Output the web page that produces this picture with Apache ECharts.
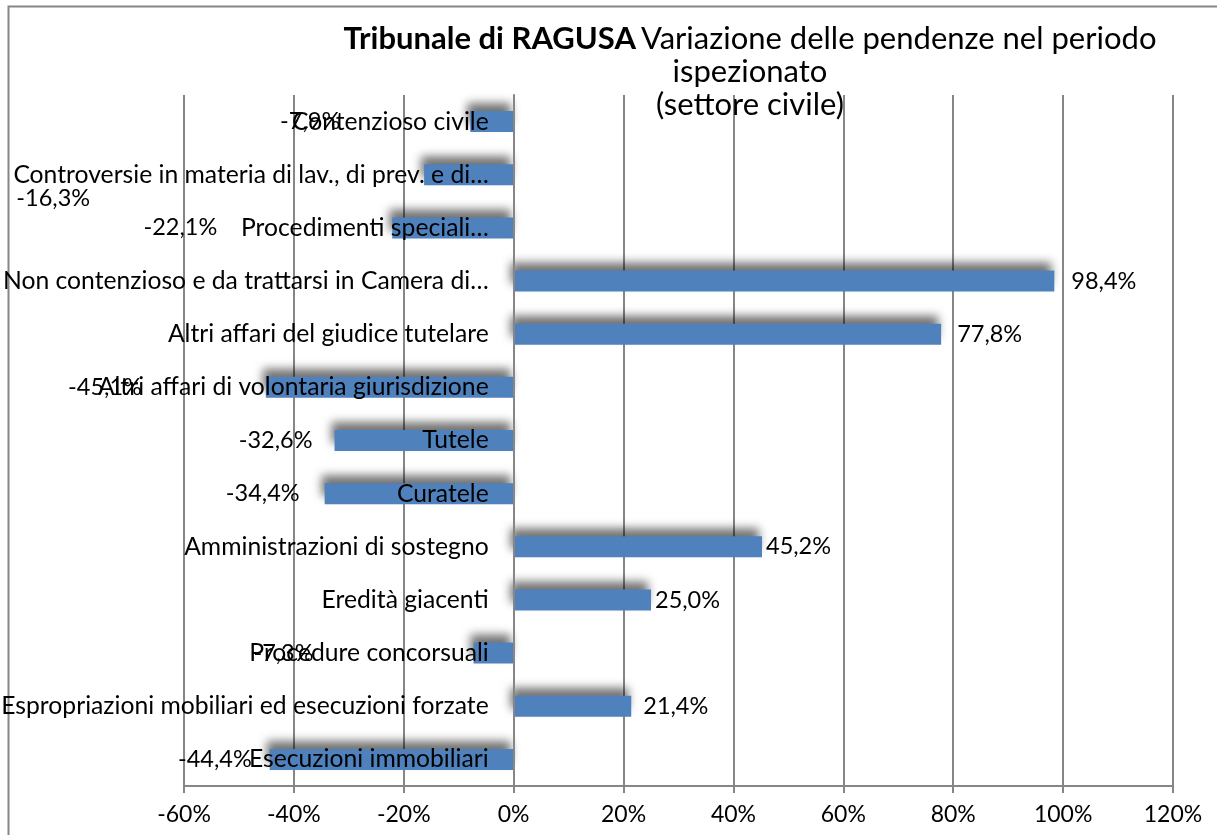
<!DOCTYPE html>
<html>
<head>
<meta charset="utf-8">
<script src="https://cdn.jsdelivr.net/npm/echarts@6/dist/echarts.min.js"></script>
<style>
html,body{margin:0;padding:0;background:#fff;}
#chart{width:1217px;height:835px;}
</style>
</head>
<body>
<div id="chart"></div>
<script>
var categories = [
  'Contenzioso civile',
  'Controversie in materia di lav., di prev. e di…',
  'Procedimenti speciali…',
  'Non contenzioso e da trattarsi in Camera di…',
  'Altri affari del giudice tutelare',
  'Altri affari di volontaria giurisdizione',
  'Tutele',
  'Curatele',
  'Amministrazioni di sostegno',
  'Eredità giacenti',
  'Procedure concorsuali',
  'Espropriazioni mobiliari ed esecuzioni forzate',
  'Esecuzioni immobiliari'
];
var values = [-7.9, -16.3, -22.1, 98.4, 77.8, -45.1, -32.6, -34.4, 45.2, 25.0, -7.3, 21.4, -44.4];
var xTicks = { min: -60, max: 120, step: 20 };

// label nudges (style only), mimicking the original's label placement
var labelNudge = [[-125,0],[-329,24],[-170,0],[12,0],[11,0],[-119,0],[-17,0],[-20,0],[-1,0],[-1,0],[-155,0],[7,0],[-13,0]];

var FONT = 'Lato, "Open Sans", sans-serif';
var GRID_LEFT = 184;
var chart = echarts.init(document.getElementById('chart'));

var data = values.map(function (v, i) {
  return {
    value: v,
    label: {
      position: v < 0 ? 'left' : 'right',
      distance: 5,
      offset: labelNudge[i]
    }
  };
});

chart.setOption({
  animation: false,
  title: {
    text: '{b|Tribunale di RAGUSA} {n|Variazione delle pendenze nel periodo}\n{n|ispezionato}\n{n|(settore civile)}',
    left: 745,
    top: 17,
    textAlign: 'center',
    textStyle: {
      fontWeight: 'normal',
      rich: {
        b: { fontFamily: FONT, fontSize: 31, fontWeight: 'bold', color: '#000', lineHeight: 33 },
        n: { fontFamily: FONT, fontSize: 31, fontWeight: 'normal', color: '#000', lineHeight: 33 }
      }
    }
  },
  graphic: [{
    type: 'rect',
    shape: { x: 8.5, y: 6.5, width: 1400, height: 1000 },
    style: { fill: null, stroke: '#868686', lineWidth: 2 },
    silent: true,
    z: -10
  }],
  grid: { left: GRID_LEFT, right: 44, top: 95, bottom: 49, containLabel: false, outerBoundsMode: 'none' },
  xAxis: {
    type: 'value',
    min: xTicks.min,
    max: xTicks.max,
    interval: xTicks.step,
    axisLine: { show: true, lineStyle: { color: '#868686', width: 2 } },
    axisTick: { show: true, length: 7, lineStyle: { color: '#868686', width: 2 } },
    axisLabel: {
      formatter: '{value}%',
      fontFamily: FONT, fontSize: 23, color: '#000', margin: 17
    },
    splitLine: { show: true, lineStyle: { color: '#868686', width: 2 } }
  },
  yAxis: {
    type: 'category',
    data: categories,
    inverse: true,
    z: 10,
    axisLine: { show: true, onZero: false, lineStyle: { color: '#868686', width: 2 } },
    axisTick: { show: false },
    axisLabel: { fontFamily: FONT, fontSize: 24.7, color: '#000', margin: 25 }
  },
  series: [{
    type: 'bar',
    data: data,
    barWidth: 21,
    itemStyle: {
      color: '#4F81BD',
      shadowBlur: 10,
      shadowColor: 'rgba(0,0,0,0.55)',
      shadowOffsetX: -3,
      shadowOffsetY: -8
    },
    label: {
      show: true,
      fontFamily: FONT,
      fontSize: 23.5,
      color: '#000',
      formatter: function (p) { return p.value.toFixed(1).replace('.', ',') + '%'; }
    }
  }]
});

// place the category axis (with its labels) on the 0% line of the value axis
var x0 = chart.convertToPixel({ xAxisIndex: 0 }, 0);
chart.setOption({ yAxis: { offset: -(x0 - GRID_LEFT) } });
</script>
</body>
</html>
